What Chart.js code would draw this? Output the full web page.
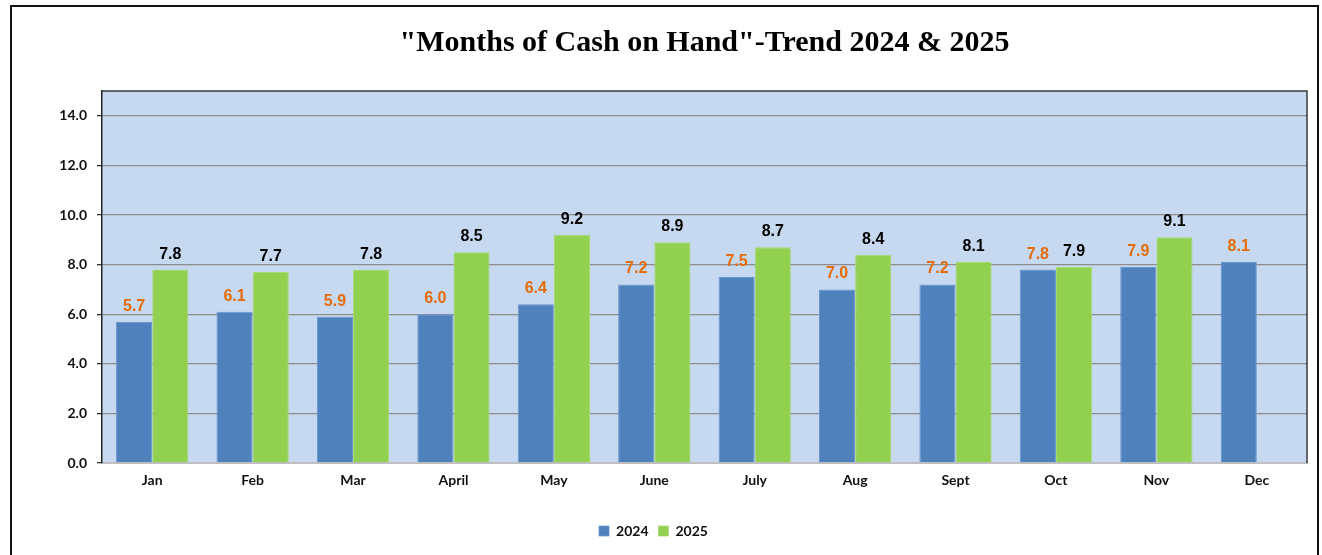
<!DOCTYPE html>
<html>
<head>
<meta charset="utf-8">
<title>Months of Cash on Hand</title>
<script src="https://cdn.jsdelivr.net/npm/chart.js@4.4.1/dist/chart.umd.min.js"></script>
<style>
  html, body { margin: 0; padding: 0; background: #ffffff; }
  #wrap { position: relative; width: 1322px; height: 555px; overflow: hidden; }
  #frame { position: absolute; left: 10px; top: 5px; width: 1305px; height: 600px; border: 2px solid #111; }
  #myChart { position: absolute; left: 0; top: 0; }
</style>
</head>
<body>
<div id="wrap">
  <div id="frame"></div>
  <canvas id="myChart" width="1322" height="555"></canvas>
</div>
<script>
"use strict";

// Data for the chart
let months = ["Jan", "Feb", "Mar", "April", "May", "June", "July", "Aug", "Sept", "Oct", "Nov", "Dec"];
let cash2024 = [5.7, 6.1, 5.9, 6.0, 6.4, 7.2, 7.5, 7.0, 7.2, 7.8, 7.9, 8.1];
let cash2025 = [7.8, 7.7, 7.8, 8.5, 9.2, 8.9, 8.7, 8.4, 8.1, 7.9, 9.1, null];
let yTicks = [0, 2, 4, 6, 8, 10, 12, 14];

let chartTitle = "\"Months of Cash on Hand\"-Trend 2024 & 2025";
let labelColors = ["#E46C0A", "#000000"];

// Plot area background + border, title, value labels
let decoPlugin = {
    id: "deco",
    beforeDraw: function (chart) {
        let ctx = chart.ctx;
        let a = chart.chartArea;
        ctx.save();
        ctx.fillStyle = "#C6D9F1";
        ctx.fillRect(a.left, a.top, a.right - a.left, a.bottom - a.top);
        ctx.restore();
    },
    afterDraw: function (chart) {
        let ctx = chart.ctx;
        let a = chart.chartArea;
        ctx.save();
        // border of the plot area (top and right)
        ctx.strokeStyle = "#3a3a3a";
        ctx.lineWidth = 1.5;
        ctx.beginPath();
        ctx.moveTo(a.left, a.top);
        ctx.lineTo(a.right, a.top);
        ctx.lineTo(a.right, a.bottom);
        ctx.stroke();

        // title
        ctx.fillStyle = "#000";
        ctx.font = "bold 30px 'Liberation Serif'";
        ctx.textAlign = "center";
        ctx.textBaseline = "middle";
        ctx.fillText(chartTitle, (a.left + a.right) / 2, 43);

        // value labels above bars
        ctx.font = "bold 16px 'Liberation Sans'";
        ctx.textBaseline = "alphabetic";
        chart.data.datasets.forEach(function (ds, i) {
            let meta = chart.getDatasetMeta(i);
            meta.data.forEach(function (bar, j) {
                if (ds.data[j] === null) return;
                ctx.fillStyle = labelColors[i];
                ctx.fillText(ds.data[j].toFixed(1), bar.x, bar.y - 11);
            });
        });
        ctx.restore();
    }
};

let data = {
    labels: months,
    datasets: [{
        label: "2024",
        data: cash2024,
        backgroundColor: "#4F81BD",
        borderColor: "#6A95CA",
        borderWidth: { top: 1, left: 1, right: 1, bottom: 0 }
    },
    {
        label: "2025",
        data: cash2025,
        backgroundColor: "#92D050",
        borderColor: "#A6DB70",
        borderWidth: { top: 1, left: 1, right: 1, bottom: 0 }
    }]
};

let config = {
    type: "bar",
    data: data,
    plugins: [decoPlugin],
    options: {
        responsive: false,
        animation: false,
        layout: { padding: { left: 0, right: 15, top: 91, bottom: 7 } },
        datasets: { bar: { barPercentage: 1.0, categoryPercentage: 0.72 } },
        plugins: {
            title: { display: false },
            tooltip: { enabled: false },
            legend: {
                position: "bottom",
                labels: {
                    boxWidth: 10,
                    boxHeight: 10,
                    padding: 10,
                    color: "#111",
                    font: { family: "Lato", weight: "bold", size: 14 }
                }
            }
        },
        scales: {
            x: {
                grid: { display: false },
                border: { color: "#BFBFBF", width: 2 },
                ticks: {
                    color: "#111",
                    padding: 1,
                    font: { family: "Lato", weight: "bold", size: 14 }
                },
                afterFit: function (scale) { scale.height = 51; }
            },
            y: {
                min: 0,
                max: 15,
                afterBuildTicks: function (scale) {
                    scale.ticks = yTicks.map(function (v) { return { value: v }; });
                },
                grid: { color: "#8C8C8C", lineWidth: 1.3, tickLength: 5, tickColor: "#333" },
                border: { color: "#222", width: 1.5 },
                ticks: {
                    color: "#111",
                    padding: 10,
                    font: { family: "Lato", weight: "bold", size: 14 },
                    callback: function (v) { return Number(v).toFixed(1); }
                },
                afterFit: function (scale) { scale.width = 102; }
            }
        }
    }
};

let theChart = new Chart(document.getElementById("myChart"), config);
</script>
</body>
</html>
